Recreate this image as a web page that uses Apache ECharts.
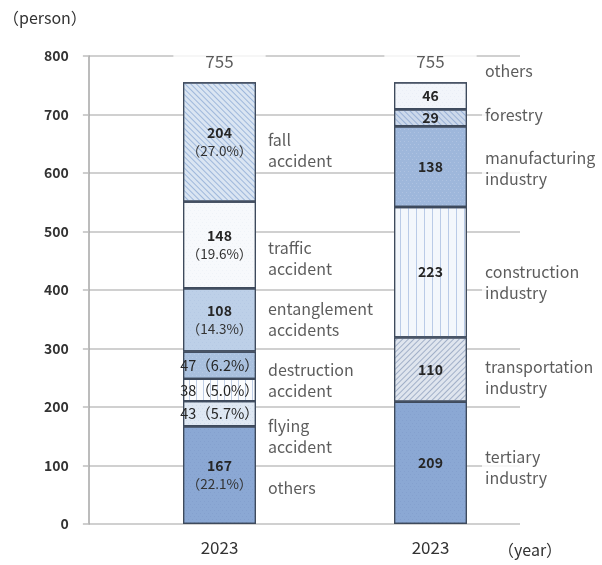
<!DOCTYPE html>
<html>
<head>
<meta charset="utf-8">
<script src="https://cdn.jsdelivr.net/npm/echarts@6/dist/echarts.min.js"></script>
<style>
  html, body { margin: 0; background: #fff; }
  #chart { width: 602px; height: 565px; }
</style>
</head>
<body>
<div id="chart"></div>
<script>
  // data (bottom of the bar first)
  var years = ['2023', '2023'];
  var accidentNames = ['others', 'flying\naccident', '', 'destruction\naccident', 'entanglement\naccidents', 'traffic\naccident', 'fall\naccident'];
  var accidentValues = [167, 43, 38, 47, 108, 148, 204];
  var industryNames = ['tertiary\nindustry', 'transportation\nindustry', 'construction\nindustry', 'manufacturing\nindustry', 'forestry', 'others'];
  var industryValues = [209, 110, 223, 138, 29, 46];

  // nudges for the side texts (px), same order as the names
  var accidentDy = [13, 23, 0, 15, 0, 13, 8];
  var industryDy = [5, 8, 10, 2, -3, -25];

  var FONT = 'Noto Sans CJK JP';
  var BORDER = '#3e4a5c';

  // fills and textures
  var dots = function (c, s) {
    return { symbol: 'circle', symbolSize: s || 0.6, dashArrayX: [[1, 3], [0, 2, 1, 1]], dashArrayY: [1, 2], color: c };
  };
  var hlines = function (c) {
    return { symbol: 'rect', symbolSize: 1, dashArrayX: [1, 0], dashArrayY: [1, 2], color: c };
  };
  var vlines = function (c, gap) {
    return { symbol: 'rect', symbolSize: 1, dashArrayX: [1, gap || 5], dashArrayY: [1, 0], color: c };
  };
  var diag = function (c, rot) {
    return { symbol: 'rect', symbolSize: 1, dashArrayX: [1, 0], dashArrayY: [1, 3], rotation: rot, color: c };
  };

  var accidentStyles = [
    { color: '#8ba8d4', decal: dots('rgba(60,90,150,0.35)', 0.7) },
    { color: '#dfe8f3', decal: dots('rgba(110,145,200,0.6)') },
    { color: '#fbfcfe', decal: vlines('rgba(120,150,200,0.45)', 6) },
    { color: '#a9c0de', decal: dots('rgba(255,255,255,0.7)') },
    { color: '#bdd0e8', decal: dots('rgba(150,175,215,0.9)') },
    { color: '#f7f9fc', decal: dots('rgba(150,170,205,0.6)', 0.4) },
    { color: '#dae5f2', decal: diag('rgba(110,145,200,0.55)', Math.PI / 4) }
  ];
  var industryStyles = [
    { color: '#8ba8d4', decal: dots('rgba(60,90,150,0.35)', 0.7) },
    { color: '#dfe5ee', decal: diag('rgba(120,140,175,0.6)', -Math.PI / 4) },
    { color: '#f3f7fc', decal: vlines('rgba(130,160,210,0.5)', 7) },
    { color: '#9eb7db', decal: dots('rgba(255,255,255,0.75)') },
    { color: '#ccd9eb', decal: diag('rgba(120,150,200,0.6)', Math.PI / 4) },
    { color: '#f2f5fa', decal: dots('rgba(140,165,205,0.6)', 0.4) }
  ];

  function sum(a) { return a.reduce(function (s, v) { return s + v; }, 0); }
  var accTotal = sum(accidentValues);
  var indTotal = sum(industryValues);

  function mids(values) {
    var out = [], acc = 0;
    values.forEach(function (v) { out.push(acc + v / 2); acc += v; });
    return out;
  }

  var series = [];

  accidentValues.forEach(function (v, i) {
    series.push({
      type: 'bar', xAxisIndex: 1, yAxisIndex: 1, stack: 'all', barWidth: 73,
      data: [v, '-'],
      itemStyle: { color: accidentStyles[i].color, decal: accidentStyles[i].decal, borderColor: BORDER, borderWidth: 1.2 },
      label: {
        show: true, position: 'inside', fontFamily: FONT, color: '#262626',
        formatter: function (p) {
          var pct = (p.value / accTotal * 100).toFixed(1);
          return p.value < 60
            ? '{s|' + p.value + '（' + pct + '%）}'
            : '{n|' + p.value + '}\n{p|（' + pct + '%）}';
        },
        rich: {
          n: { fontFamily: FONT, fontSize: 14, fontWeight: 'bold', color: '#262626', lineHeight: 18 },
          p: { fontFamily: FONT, fontSize: 13.5, color: '#333', lineHeight: 18 },
          s: { fontFamily: FONT, fontSize: 14.5, color: '#262626' }
        }
      },
      silent: true
    });
  });

  industryValues.forEach(function (v, i) {
    series.push({
      type: 'bar', xAxisIndex: 1, yAxisIndex: 1, stack: 'all', barWidth: 73,
      data: ['-', v],
      itemStyle: { color: industryStyles[i].color, decal: industryStyles[i].decal, borderColor: BORDER, borderWidth: 1.2 },
      label: { show: true, position: 'inside', fontFamily: FONT, fontSize: 14, fontWeight: 'bold', color: '#262626' },
      silent: true
    });
  });

  // side captions, placed at each segment's middle
  var sideLabel = { show: true, position: 'right', fontFamily: FONT, fontSize: 16, lineHeight: 21, color: '#333', backgroundColor: '#fff', padding: [0, 3], formatter: '{b}' };
  var accMid = mids(accidentValues);
  var indMid = mids(industryValues);

  series.push({
    type: 'scatter', xAxisIndex: 1, yAxisIndex: 1, symbolSize: 1, itemStyle: { color: 'transparent' }, silent: true,
    label: Object.assign({}, sideLabel, { distance: 45 }),
    data: accidentNames.map(function (n, i) {
      return { name: n, value: [0, accMid[i]], label: { show: n !== '', offset: [0, accidentDy[i]] } };
    }),
    z: 3
  });
  series.push({
    type: 'scatter', xAxisIndex: 1, yAxisIndex: 1, symbolSize: 1, itemStyle: { color: 'transparent' }, silent: true,
    label: Object.assign({}, sideLabel, { distance: 51 }),
    data: industryNames.map(function (n, i) {
      return { name: n, value: [1, indMid[i]], label: { offset: [0, industryDy[i]] } };
    }),
    z: 3
  });

  // totals above the bars
  series.push({
    type: 'scatter', xAxisIndex: 1, yAxisIndex: 1, symbolSize: 1, itemStyle: { color: 'transparent' }, silent: true,
    label: {
      show: true, position: 'top', distance: 12, fontFamily: FONT, fontSize: 17, color: '#333',
      backgroundColor: '#fff', padding: [0, 32], formatter: function (p) { return p.value[1]; }
    },
    data: [[0, accTotal], [1, indTotal]],
    z: 3
  });

  var chart = echarts.init(document.getElementById('chart'), null, { renderer: 'canvas' });
  chart.setOption({
    animation: false,
    backgroundColor: '#fff',
    grid: [
      { left: 86, right: 82, top: 56, bottom: 41 },
      { left: 114, width: 422, top: 56, bottom: 41 }
    ],
    xAxis: [
      {
        gridIndex: 0, type: 'value', min: 0, max: 1,
        axisLine: { show: false }, axisTick: { show: false }, axisLabel: { show: false }, splitLine: { show: false },
        name: '（year）', nameLocation: 'end', nameGap: -22,
        nameTextStyle: { fontFamily: FONT, fontSize: 16, color: '#333', align: 'left', verticalAlign: 'top', padding: [18, 0, 0, 0] }
      },
      {
        gridIndex: 1, type: 'category', data: years,
        axisLine: { show: false }, axisTick: { show: false }, splitLine: { show: false },
        axisLabel: { margin: 15, fontFamily: FONT, fontSize: 17, color: '#333', interval: 0 }
      }
    ],
    yAxis: [
      {
        gridIndex: 0, type: 'value', min: 0, max: 800, interval: 100,
        axisLine: { show: true, lineStyle: { color: '#a6a6a6', width: 1.5 } },
        axisTick: { show: true, length: 6, lineStyle: { color: '#bfbfbf', width: 1.5 } },
        splitLine: { show: true, lineStyle: { color: '#c0c0c0', width: 1.5 } },
        axisLabel: { margin: 20, fontFamily: FONT, fontSize: 14, fontWeight: 'bold', color: '#333' },
        name: '（person）', nameLocation: 'end', nameGap: 30,
        nameTextStyle: { fontFamily: FONT, fontSize: 16, color: '#333', align: 'right', padding: [0, 2, 0, 0] }
      },
      { gridIndex: 1, type: 'value', min: 0, max: 800, interval: 100, show: false }
    ],
    series: series
  });
</script>
</body>
</html>
